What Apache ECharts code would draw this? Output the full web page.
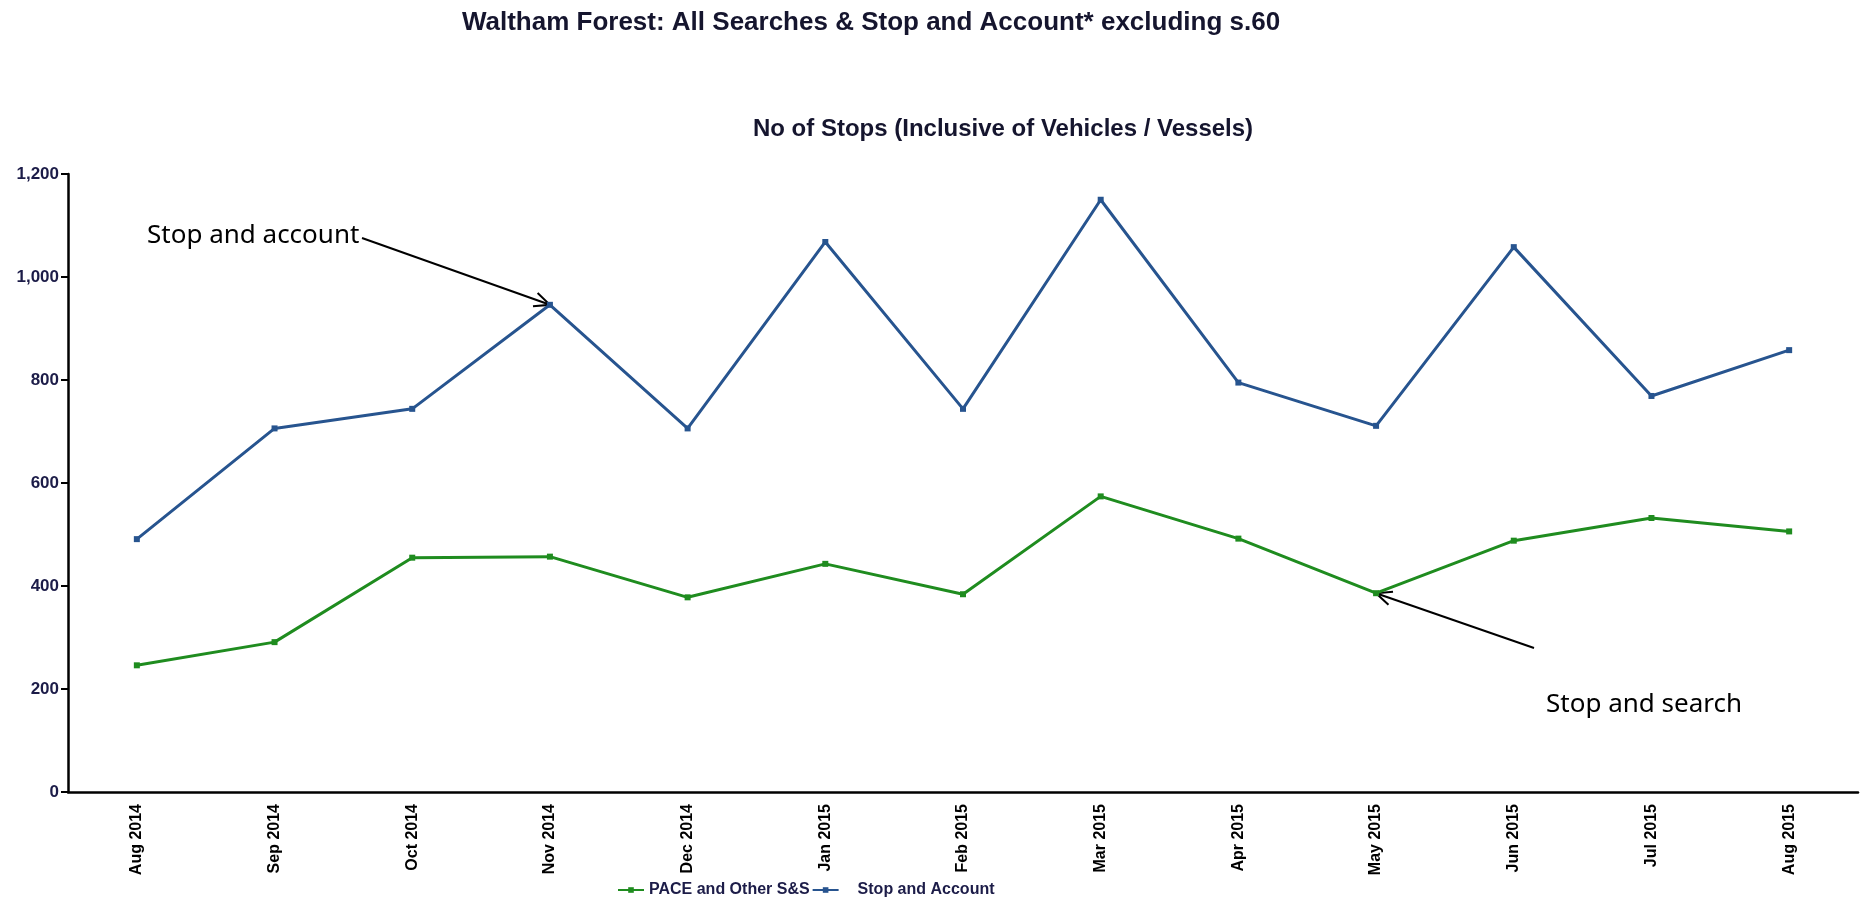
<!DOCTYPE html>
<html>
<head>
<meta charset="utf-8">
<title>Waltham Forest stops</title>
<script src="https://cdn.jsdelivr.net/npm/echarts@6/dist/echarts.min.js"></script>
<style>
    html, body {margin: 0; padding: 0; background: #fff;}
    #chart {width: 1865px; height: 902px;}
</style>
</head>
<body>
<div id="chart"></div>
<script>
// data
const months = ['Aug 2014', 'Sep 2014', 'Oct 2014', 'Nov 2014', 'Dec 2014', 'Jan 2015', 'Feb 2015',
    'Mar 2015', 'Apr 2015', 'May 2015', 'Jun 2015', 'Jul 2015', 'Aug 2015']
const paceValues = [246, 291, 455, 457, 378, 443, 384, 574, 492, 386, 488, 532, 506]
const accountValues = [491, 706, 744, 946, 706, 1068, 744, 1150, 795, 711, 1058, 769, 858]
const yTicks = [0, 200, 400, 600, 800, 1000, 1200]

const boldFont = '"Liberation Sans", Arial, sans-serif'
const labelColor = '#1c1c48'

let chartDom = document.getElementById('chart')
let myChart = echarts.init(chartDom, null, {renderer: 'canvas'})

let option = {
    animation: false,
    backgroundColor: '#fff',
    title: [{
        text: 'Waltham Forest: All Searches & Stop and Account* excluding s.60',
        left: 866, top: 18, textAlign: 'center', textVerticalAlign: 'middle',
        textStyle: {fontFamily: boldFont, fontWeight: 'bold', fontSize: 26, color: '#15152e'}
    }, {
        text: 'No of Stops (Inclusive of Vehicles / Vessels)',
        left: 998, top: 124, textAlign: 'center', textVerticalAlign: 'middle',
        textStyle: {fontFamily: boldFont, fontWeight: 'bold', fontSize: 24, color: '#15152e'}
    }],
    legend: {
        left: 612, top: 877,
        itemWidth: 26, itemHeight: 7, itemGap: 2,
        data: [
            {name: 'PACE and Other S&S'},
            {name: 'Stop and Account', textStyle: {padding: [0, 0, 0, 14]}}
        ],
        textStyle: {fontFamily: boldFont, fontWeight: 'bold', fontSize: 16, color: labelColor}
    },
    grid: {left: 68, right: 7, top: 174, bottom: 110},
    xAxis: {
        type: 'category',
        data: months,
        boundaryGap: true,
        axisLine: {lineStyle: {color: '#000', width: 2.5}},
        axisTick: {show: false},
        axisLabel: {rotate: 90, margin: 12, interval: 0, color: '#000',
            fontFamily: boldFont, fontWeight: 'bold', fontSize: 16}
    },
    yAxis: {
        type: 'value',
        min: yTicks[0], max: yTicks[yTicks.length - 1], interval: 200,
        splitLine: {show: false},
        axisLine: {show: true, lineStyle: {color: '#000', width: 2.5}},
        axisTick: {show: true, length: 7, lineStyle: {color: '#000', width: 2}},
        axisLabel: {margin: 9, color: labelColor, fontFamily: boldFont, fontWeight: 'bold', fontSize: 17,
            formatter: v => v.toLocaleString('en-GB')}
    },
    series: [{
        name: 'PACE and Other S&S',
        type: 'line',
        data: paceValues,
        symbol: 'rect', symbolSize: 6,
        lineStyle: {color: '#1f8c1f', width: 3},
        itemStyle: {color: '#1f8c1f'}
    }, {
        name: 'Stop and Account',
        type: 'line',
        data: accountValues,
        symbol: 'rect', symbolSize: 6,
        lineStyle: {color: '#27548f', width: 3},
        itemStyle: {color: '#27548f'}
    }]
}
myChart.setOption(option)

// annotation arrows, tips placed on the data points through the chart's own scales
function arrow(from, to) {
    let ang = Math.atan2(to[1] - from[1], to[0] - from[0])
    let len = 17, spread = 0.42
    let left = [to[0] - len * Math.cos(ang - spread), to[1] - len * Math.sin(ang - spread)]
    let right = [to[0] - len * Math.cos(ang + spread), to[1] - len * Math.sin(ang + spread)]
    let style = {stroke: '#000', lineWidth: 2, fill: null}
    return [
        {type: 'line', shape: {x1: from[0], y1: from[1], x2: to[0], y2: to[1]}, style: style},
        {type: 'polyline', shape: {points: [left, to, right]}, style: style}
    ]
}

const accountTip = myChart.convertToPixel({seriesIndex: 1}, [3, accountValues[3]])
const paceTip = myChart.convertToPixel({seriesIndex: 0}, [9, paceValues[9]])
const noteFont = '26px "Noto Sans", "Open Sans", sans-serif'

myChart.setOption({
    graphic: [
        {type: 'text', style: {text: 'Stop and account', x: 147, y: 236, font: noteFont, fill: '#000', verticalAlign: 'middle'}},
        {type: 'text', style: {text: 'Stop and search', x: 1546, y: 705, font: noteFont, fill: '#000', verticalAlign: 'middle'}}
    ].concat(arrow([362, 238], accountTip), arrow([1534, 648], paceTip))
})

window.addEventListener('resize', () => {
    myChart.resize()
})
</script>
</body>
</html>
